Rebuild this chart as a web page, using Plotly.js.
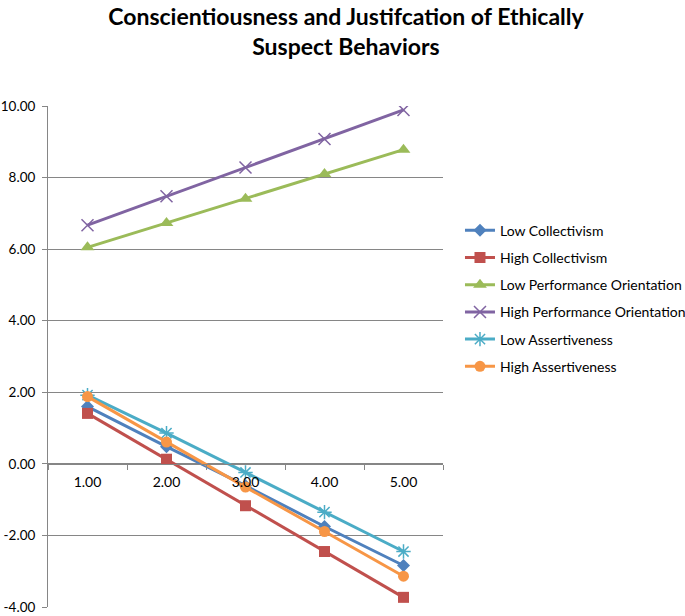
<!DOCTYPE html>
<html>
<head>
<meta charset="utf-8">
<script src="https://cdn.plot.ly/plotly-3.0.1.min.js"></script>
<style>html,body{margin:0;padding:0;background:#fff;}#chart{width:685px;height:616px;}</style>
</head>
<body>
<div id="chart"></div>
<script>
const categories = ["1.00", "2.00", "3.00", "4.00", "5.00"];
const lowCollectivism = [1.60, 0.48, -0.61, -1.75, -2.84];
const highCollectivism = [1.41, 0.13, -1.17, -2.45, -3.73];
const lowPerformance = [6.05, 6.73, 7.41, 8.10, 8.78];
const highPerformance = [6.67, 7.48, 8.28, 9.08, 9.89];
const lowAssertiveness = [1.92, 0.86, -0.24, -1.35, -2.45];
const highAssertiveness = [1.88, 0.61, -0.65, -1.89, -3.14];
const seriesNames = ["Low Collectivism", "High Collectivism", "Low Performance Orientation", "High Performance Orientation", "Low Assertiveness", "High Assertiveness"];
const yTickVals = [-4, -2, 0, 2, 4, 6, 8, 10];

const seriesData = [lowCollectivism, highCollectivism, lowPerformance, highPerformance, lowAssertiveness, highAssertiveness];
const colors = ["#4F81BD", "#C0504D", "#9BBB59", "#8064A2", "#4BACC6", "#F79646"];
const symbols = ["diamond", "square", "triangle-up", "x-thin-open", "asterisk-open", "circle"];
const sizes = [10, 11, 12, 12, 12, 11];

const traces = seriesData.map((vals, i) => ({
  type: "scatter",
  mode: "lines+markers",
  name: seriesNames[i],
  legendgroup: "g" + i,
  x: categories,
  y: vals,
  line: {color: colors[i], width: 3},
  marker: {symbol: symbols[i], size: sizes[i], color: colors[i], line: {color: colors[i], width: (i === 3 || i === 4) ? 1.5 : 0}}
}));

const yMin = -4, yMax = 10;
const layout = {
  width: 685, height: 616,
  margin: {l: 48, r: 242, t: 106, b: 9, autoexpand: false},
  paper_bgcolor: "#fff", plot_bgcolor: "#fff",
  font: {family: "Lato, 'Open Sans', sans-serif", size: 13, color: "#000"},
  title: {
    text: "Conscientiousness and Justifcation of Ethically<br>Suspect Behaviors",
    font: {family: "Lato, sans-serif", size: 23, color: "#000", weight: "bold"},
    x: 0.505, xref: "container", y: 0.96, yref: "container", yanchor: "middle", xanchor: "center"
  },
  xaxis: {
    type: "category",
    range: [-0.5, 4.5],
    anchor: "free",
    position: (0 - yMin) / (yMax - yMin),
    showline: true, linecolor: "#868686", linewidth: 1,
    showgrid: false, zeroline: false,
    ticks: "outside", tickson: "boundaries", ticklen: 5, tickcolor: "#868686",
    ticklabelstandoff: 5,
    tickfont: {family: "Lato, sans-serif", size: 14, color: "#000"}
  },
  yaxis: {
    range: [yMin, yMax],
    tickvals: yTickVals,
    ticktext: yTickVals.map(v => v.toFixed(2)),
    showgrid: true, gridcolor: "#868686", gridwidth: 1,
    zeroline: false,
    showline: true, linecolor: "#868686", linewidth: 1,
    ticks: "outside", ticklen: 5, tickcolor: "#868686",
    ticklabelstandoff: 4,
    tickfont: {family: "Lato, sans-serif", size: 13.5, color: "#000"}
  },
  legend: {
    x: 1.043, y: 0.783, xanchor: "left", yanchor: "top",
    traceorder: "grouped", tracegroupgap: 6,
    font: {family: "Lato, sans-serif", size: 14, color: "#000"},
    bgcolor: "rgba(0,0,0,0)"
  },
  showlegend: true
};

Plotly.newPlot("chart", traces, layout, {displayModeBar: false, staticPlot: true});
</script>
</body>
</html>
